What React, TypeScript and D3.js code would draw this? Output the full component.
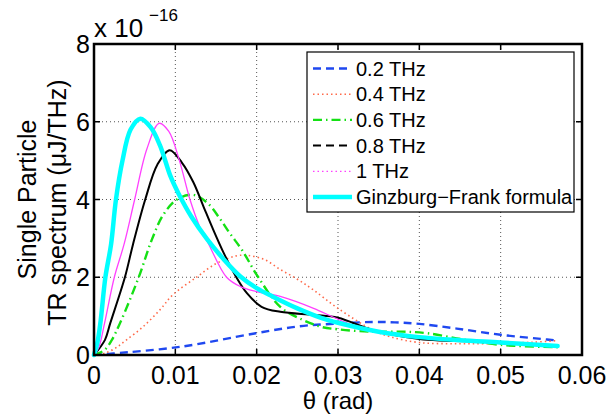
import React from "react";
import * as d3 from "d3";

type Pt = [number, number];

const theta02: Pt[] = [[0,0],[0.0024,0.04],[0.0106,0.21],[0.0199,0.56],[0.0253,0.74],[0.03,0.81],[0.0343,0.85],[0.037,0.84],[0.04,0.8],[0.0446,0.68],[0.05,0.52],[0.0557,0.4],[0.057,0.37]];
const theta04: Pt[] = [[0,0],[0.0014,0.05],[0.0028,0.2],[0.004,0.39],[0.006,0.72],[0.0081,1.16],[0.0097,1.55],[0.0126,2.0],[0.015,2.35],[0.0175,2.55],[0.019,2.56],[0.021,2.45],[0.0229,2.2],[0.025,1.95],[0.027,1.67],[0.03,1.2],[0.0343,0.64],[0.0364,0.47],[0.04,0.32],[0.045,0.29],[0.05,0.3],[0.054,0.33],[0.057,0.37]];
const theta06: Pt[] = [[0,0],[0.0013,0.13],[0.0022,0.39],[0.0032,0.82],[0.0055,2.0],[0.0071,2.96],[0.0085,3.6],[0.0102,4.0],[0.0122,4.12],[0.014,3.9],[0.0155,3.5],[0.0167,3.13],[0.0182,2.7],[0.0202,2.0],[0.0229,1.24],[0.0257,0.9],[0.028,0.72],[0.03,0.66],[0.034,0.6],[0.038,0.6],[0.041,0.56],[0.0454,0.4],[0.05,0.26],[0.057,0.2]];
const theta08: Pt[] = [[0,0],[0.00135,0.39],[0.002,0.82],[0.0038,2.0],[0.0048,2.85],[0.0063,4.0],[0.0078,4.9],[0.0093,5.27],[0.0108,4.95],[0.0122,4.45],[0.0135,3.8],[0.0145,3.3],[0.016,2.6],[0.0175,2.0],[0.0188,1.59],[0.0206,1.24],[0.0229,1.11],[0.027,1.03],[0.03,0.96],[0.0343,0.64],[0.04,0.41],[0.05,0.33],[0.057,0.23]];
const theta10: Pt[] = [[0,0],[0.0006,0.2],[0.0013,0.82],[0.0025,2.0],[0.0037,2.85],[0.005,4.0],[0.0065,5.3],[0.008,5.96],[0.0092,5.75],[0.0105,5.0],[0.0118,4.0],[0.013,3.3],[0.0141,2.85],[0.0163,2.0],[0.018,1.76],[0.02,1.63],[0.023,1.5],[0.027,1.2],[0.03,0.92],[0.033,0.68],[0.037,0.55],[0.042,0.43],[0.05,0.31],[0.057,0.22]];
const ginzburg: Pt[] = [[0,0],[0.0004,0.3],[0.0008,0.85],[0.0014,2.0],[0.0021,2.85],[0.0027,4.0],[0.0035,5.0],[0.0045,5.8],[0.0057,6.08],[0.007,5.85],[0.0081,5.4],[0.0094,4.6],[0.0104,4.15],[0.012,3.55],[0.0139,2.98],[0.016,2.45],[0.018,2.02],[0.02,1.72],[0.022,1.5],[0.025,1.2],[0.028,0.95],[0.03,0.83],[0.035,0.6],[0.04,0.46],[0.045,0.38],[0.05,0.32],[0.057,0.23]];

const xTicks = [0, 0.01, 0.02, 0.03, 0.04, 0.05, 0.06];
const xTickLabels = ["0", "0.01", "0.02", "0.03", "0.04", "0.05", "0.06"];
const yTicks = [0, 2, 4, 6, 8];
const legendLabels = ["0.2 THz", "0.4 THz", "0.6 THz", "0.8 THz", "1 THz", "Ginzburg\u2212Frank formula"];

const FONT = "'Liberation Sans', Arial, Helvetica, sans-serif";

export default function App() {
  const W = 610, H = 414;
  const L = 94, R = 582, T = 44, B = 355;
  const x = d3.scaleLinear().domain([0, 0.06]).range([L, R]);
  const y = d3.scaleLinear().domain([0, 8]).range([B, T]);
  const line = d3.line<Pt>().x(d => x(d[0])).y(d => Math.min(B, y(d[1]))).curve(d3.curveCatmullRom.alpha(0.5));

  const series = [
    { data: theta02, color: "#1f48f0", width: 2.4, dash: "8,5", legDash: "8,5" },
    { data: theta04, color: "#ff6a4a", width: 1.6, dash: "1.5,3", legDash: "1.5,3" },
    { data: theta06, color: "#14e014", width: 2.4, dash: "9,4,1.5,4", legDash: "9,4,1.5,4" },
    { data: theta08, color: "#000000", width: 2, dash: undefined as string | undefined, legDash: "8,5" },
    { data: theta10, color: "#ff40ff", width: 1.3, dash: undefined as string | undefined, legDash: "1.5,3" },
    { data: ginzburg, color: "#00ffff", width: 4.5, dash: undefined as string | undefined, legDash: undefined as string | undefined },
  ];

  const legX = 307, legY = 52, legW = 267, legH = 160;
  const rowY = (i: number) => 68.5 + i * 25.7;

  return (
    <svg width={W} height={H} style={{ display: "block", position: "absolute", left: 0, top: 0, background: "#fff" }} fontFamily={FONT}>
      <rect x={0} y={0} width={W} height={H} fill="#fff" />
      {xTicks.slice(1, -1).map(t => (
        <line key={"gx" + t} x1={x(t)} x2={x(t)} y1={T} y2={B} stroke="#555" strokeWidth={1} strokeDasharray="1,3" />
      ))}
      {yTicks.slice(1, -1).map(t => (
        <line key={"gy" + t} x1={L} x2={R} y1={y(t)} y2={y(t)} stroke="#555" strokeWidth={1} strokeDasharray="1,3" />
      ))}
      {series.map((s, i) => (
        <path key={"s" + i} d={line(s.data) || ""} fill="none" stroke={s.color} strokeWidth={s.width}
          strokeDasharray={s.dash} strokeLinejoin="round" strokeLinecap={s.dash ? "butt" : "round"} />
      ))}
      {xTicks.map(t => (
        <g key={"tx" + t}>
          <line x1={x(t)} x2={x(t)} y1={B} y2={B - 6} stroke="#000" strokeWidth={1.5} />
          <line x1={x(t)} x2={x(t)} y1={T} y2={T + 6} stroke="#000" strokeWidth={1.5} />
        </g>
      ))}
      {yTicks.map(t => (
        <g key={"ty" + t}>
          <line x1={L} x2={L + 6} y1={y(t)} y2={y(t)} stroke="#000" strokeWidth={1.5} />
          <line x1={R} x2={R - 6} y1={y(t)} y2={y(t)} stroke="#000" strokeWidth={1.5} />
        </g>
      ))}
      <rect x={L} y={T} width={R - L} height={B - T} fill="none" stroke="#000" strokeWidth={2.5} />
      {xTicks.map((t, i) => (
        <text key={"lx" + t} x={x(t)} y={B + 29} fontSize={25} textAnchor="middle" fill="#000">{xTickLabels[i]}</text>
      ))}
      {yTicks.map(t => (
        <text key={"ly" + t} x={L - 4} y={y(t) + 9} fontSize={25} textAnchor="end" fill="#000">{String(t)}</text>
      ))}
      <text x={L} y={37} fontSize={26} fill="#000">x 10</text>
      <text x={149} y={21} fontSize={17} fill="#000">{"\u221216"}</text>
      <text x={(L + R) / 2} y={409} fontSize={24} textAnchor="middle" fill="#000">θ (rad)</text>
      <text transform={`translate(36,${(T + B) / 2}) rotate(-90)`} fontSize={25} textAnchor="middle" fill="#000">Single Particle</text>
      <text transform={`translate(66,${(T + B) / 2 + 3}) rotate(-90)`} fontSize={25} textAnchor="middle" fill="#000">TR spectrum (μJ/THz)</text>
      <rect x={legX} y={legY} width={legW} height={legH} fill="#fff" stroke="#000" strokeWidth={1.2} />
      {series.map((s, i) => (
        <g key={"lg" + i}>
          <line x1={313} x2={352} y1={rowY(i)} y2={rowY(i)} stroke={s.color} strokeWidth={s.width}
            strokeDasharray={s.legDash} />
          <text x={356} y={rowY(i) + 7} fontSize={20} fill="#000">{legendLabels[i]}</text>
        </g>
      ))}
    </svg>
  );
}
